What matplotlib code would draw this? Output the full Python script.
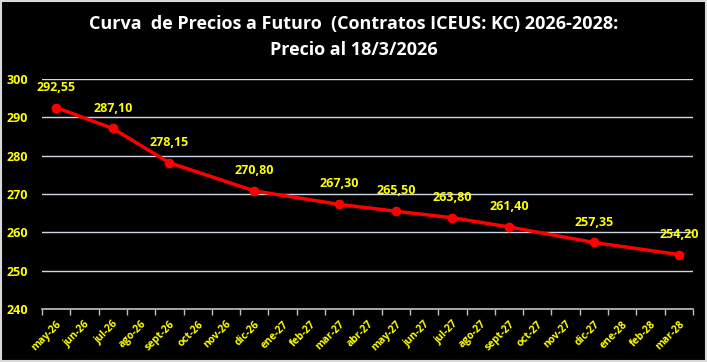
import matplotlib
matplotlib.use("Agg")
import matplotlib.pyplot as plt
from matplotlib.patches import Rectangle

months = ["may-26", "jun-26", "jul-26", "ago-26", "sept-26", "oct-26", "nov-26", "dic-26",
          "ene-27", "feb-27", "mar-27", "abr-27", "may-27", "jun-27", "jul-27", "ago-27",
          "sept-27", "oct-27", "nov-27", "dic-27", "ene-28", "feb-28", "mar-28"]
contract_months = ["may-26", "jul-26", "sept-26", "dic-26", "mar-27", "may-27",
                   "jul-27", "sept-27", "dic-27", "mar-28"]
prices = [292.55, 287.10, 278.15, 270.80, 267.30, 265.50, 263.80, 261.40, 257.35, 254.20]
yticks = [240, 250, 260, 270, 280, 290, 300]

plt.rcParams['font.family'] = ['Open Sans', 'DejaVu Sans']

fig = plt.figure(figsize=(7.07, 3.62), dpi=100, facecolor='black')
ax = fig.add_axes([42/707, 1-309/362, (693-42)/707, (309-79)/362])
ax.set_facecolor('black')

xs = [months.index(m) for m in contract_months]
ax.plot(xs, prices, color='#ff0000', linewidth=2.5, marker='o', markersize=6, zorder=3)
for x, p in zip(xs, prices):
    ax.annotate(f"{p:.2f}".replace('.', ','), (x, p), xytext=(0, 10), textcoords='offset points',
                ha='center', va='bottom', color='#ffff00', fontsize=9, fontweight='bold')

ax.set_xlim(-0.5, len(months) - 0.5)
ax.set_ylim(240, 300)
ax.set_yticks(yticks)
ax.set_yticklabels([str(v) for v in yticks], color='#ffff00', fontsize=9, fontweight='bold')
ax.tick_params(axis='y', length=0, pad=10)
ax.grid(axis='y', color='#d0d8e8', linewidth=1)
ax.set_axisbelow(True)

ax.set_xticks([i - 0.5 for i in range(len(months) + 1)])
ax.set_xticklabels([])
ax.tick_params(axis='x', which='major', length=4, color='#bfbfbf', width=1, direction='out')
ax.set_xticks(range(len(months)), minor=True)
ax.set_xticklabels(months, minor=True, rotation=45, ha='right', va='top',
                   rotation_mode='anchor', color='#ffff00', fontsize=7.5, fontweight='bold')
ax.tick_params(axis='x', which='minor', length=0, pad=7)

for s in ['top', 'left', 'right']:
    ax.spines[s].set_visible(False)
ax.spines['bottom'].set_color('#bfbfbf')
ax.spines['bottom'].set_linewidth(1.2)

fig.text(0.5, 1-24/362, "Curva  de Precios a Futuro  (Contratos ICEUS: KC) 2026-2028:",
         ha='center', va='center', color='white', fontsize=13, fontweight='bold')
fig.text(0.5, 1-50/362, "Precio al 18/3/2026",
         ha='center', va='center', color='white', fontsize=13, fontweight='bold')

fig.add_artist(Rectangle((0.001, 0.002), 0.997, 0.995, transform=fig.transFigure,
                         fill=False, edgecolor='#d9d9d9', linewidth=1.5))

fig.savefig('out.png', dpi=100, facecolor='black')
